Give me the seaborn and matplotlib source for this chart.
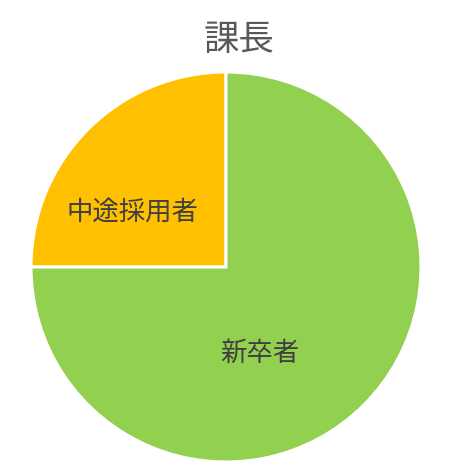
import matplotlib
matplotlib.use("Agg")
import matplotlib.pyplot as plt
import seaborn as sns

# data
categories = ["中途採用者", "新卒者"]
values = [25, 75]
title = "課長"

sns.set_theme(style="white")
plt.rcParams['font.family'] = ['Noto Sans CJK JP', 'DejaVu Sans']

colors = ["#FFC000", "#92D050"]

fig = plt.figure(figsize=(4.5, 4.7), dpi=100)
ax = fig.add_axes([31/450, 8/470, 390/450, 390/470])

wedges, texts = ax.pie(values, labels=categories, colors=colors, startangle=90,
                       counterclock=True, labeldistance=0.55,
                       wedgeprops=dict(edgecolor="white", linewidth=2.2),
                       textprops=dict(color="#404040", fontsize=19),
                       radius=1.0)
# label placement (layout)
label_pos = [(-0.48, 0.28), (0.175, -0.44)]
for t, p in zip(texts, label_pos):
    t.set_position(p)
    t.set_ha("center")
    t.set_va("center")

ax.set_xlim(-1, 1)
ax.set_ylim(-1, 1)
ax.set_aspect("equal")
ax.axis("off")

fig.text(239/450, 1 - 40/470, title, ha="center", va="center",
         fontsize=25.5, color="#595959")

fig.savefig("out.png", dpi=100, facecolor="white")
